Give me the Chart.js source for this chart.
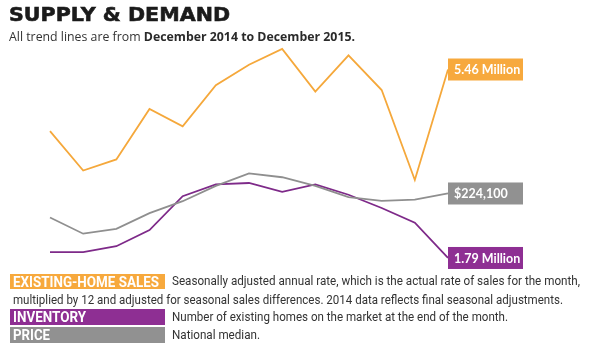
<!DOCTYPE html>
<html><head><meta charset="utf-8">
<script src="https://cdn.jsdelivr.net/npm/chart.js@4"></script>
<style>
html,body{margin:0;padding:0;background:#fff;width:600px;height:355px;overflow:hidden;position:relative}
#c{position:absolute;left:0;top:0}
.t{position:absolute;white-space:nowrap;transform-origin:0 50%;line-height:16px}
#title{left:9px;top:3px;font:bold 20px "DejaVu Sans";color:#1b1b1b;line-height:22px;-webkit-text-stroke:0.6px #1b1b1b}
#sub{left:9px;top:28px;font:12.5px "Open Sans";color:#333}
#sub b{font-weight:700;color:#2a2a2a}
.box{position:absolute;left:10px;width:155px;height:16px}
.lab{font:bold 14px "Liberation Sans Narrow","Roboto";color:#fff}
.desc{font:13px "Liberation Sans Narrow","Roboto";color:#333}
</style></head>
<body>
<canvas id="c" width="600" height="355"></canvas>
<div class="t" id="title" data-w="221">SUPPLY &amp; DEMAND</div>
<div class="t" id="sub" data-w="346">All trend lines are from <b>December 2014 to December 2015.</b></div>
<div class="box" style="top:274px;height:15px;background:#F7A93D"></div>
<div class="box" style="top:309px;background:#8E2F93"></div>
<div class="box" style="top:327px;background:#919191"></div>
<div class="t lab" style="left:12.7px;top:273.5px" data-w="146">EXISTING-HOME SALES</div>
<div class="t lab" style="left:12.7px;top:309px" data-w="73">INVENTORY</div>
<div class="t lab" style="left:12.7px;top:327px" data-w="37">PRICE</div>
<div class="t desc" style="left:172px;top:273px" data-w="408">Seasonally adjusted annual rate, which is the actual rate of sales for the month,</div>
<div class="t desc" style="left:12.7px;top:292px" data-w="550">multiplied by 12 and adjusted for seasonal sales differences. 2014 data reflects final seasonal adjustments.</div>
<div class="t desc" style="left:172px;top:309px" data-w="336">Number of existing homes on the market at the end of the month.</div>
<div class="t desc" style="left:172px;top:327px" data-w="88">National median.</div>
<script>
const months = ['Dec 2014','Jan 2015','Feb 2015','Mar 2015','Apr 2015','May 2015','Jun 2015','Jul 2015','Aug 2015','Sep 2015','Oct 2015','Nov 2015','Dec 2015'];
const sales = [5.07,4.82,4.89,5.21,5.10,5.36,5.49,5.59,5.32,5.55,5.33,4.76,5.46];
const price = [209500,199600,202600,212100,219400,228700,236400,234000,228700,221900,219600,220300,224100];
const inventory = [1.83,1.83,1.87,1.98,2.21,2.29,2.30,2.24,2.29,2.22,2.13,2.03,1.79];
const endLabels = ['5.46 Million','$224,100','1.79 Million'];
const colors = ['#F5A83B','#8F8F8F','#7E2A89'];
const boxColors = ['#F7A93D','#919191','#8E2F93'];

document.querySelectorAll('[data-w]').forEach(el=>{
  const w = el.getBoundingClientRect().width;
  const tw = parseFloat(el.dataset.w);
  el.style.transform = 'scaleX(' + (tw/w) + ')';
});

const endBoxes = {
  id:'endBoxes',
  afterDatasetsDraw(chart){
    const ctx = chart.ctx;
    chart.data.datasets.forEach((ds,i)=>{
      const pt = chart.getDatasetMeta(i).data[ds.data.length-1];
      const x = pt.x, y = pt.y;
      ctx.save();
      ctx.fillStyle = boxColors[i];
      ctx.fillRect(x, y-11, 75, 22);
      ctx.fillStyle = '#fff';
      ctx.font = 'bold 12.5px Lato';
      ctx.textBaseline = 'middle';
      ctx.fillText(endLabels[i], x+6, y+0.5);
      ctx.restore();
    });
  }
};

new Chart(document.getElementById('c'), {
  type:'line',
  data:{
    labels: months,
    datasets:[
      {label:'Existing-home sales', data:sales, borderColor:colors[0], yAxisID:'ys'},
      {label:'Price', data:price, borderColor:colors[1], yAxisID:'yp'},
      {label:'Inventory', data:inventory, borderColor:colors[2], yAxisID:'yi'}
    ]
  },
  options:{
    responsive:false, animation:false,
    layout:{padding:{left:50,right:152,top:40,bottom:85}},
    elements:{line:{borderWidth:1.8,tension:0,fill:false},point:{radius:0}},
    plugins:{legend:{display:false},tooltip:{enabled:false},title:{display:false}},
    scales:{
      x:{display:false, offset:false},
      ys:{display:false, min:4.1895, max:5.647},
      yp:{display:false, min:177473, max:317631},
      yi:{display:false, min:1.7082, max:3.2728}
    }
  },
  plugins:[endBoxes]
});
</script>
</body></html>
